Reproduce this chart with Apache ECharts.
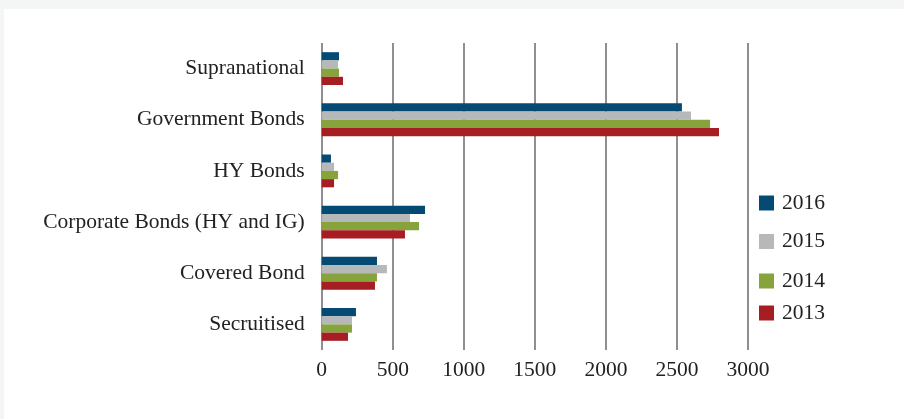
<!DOCTYPE html>
<html>
<head>
<meta charset="utf-8">
<script src="https://cdn.jsdelivr.net/npm/echarts@6/dist/echarts.min.js"></script>
<style>
  html, body { margin: 0; padding: 0; background: #f4f6f5; }
  #chart { position: absolute; left: 4px; top: 9px; width: 900px; height: 410px; background: #ffffff; }
</style>
</head>
<body>
<div id="chart"></div>
<script>
// Holdings by asset class, listed top to bottom
const categories = ['Supranational', 'Government Bonds', 'HY Bonds', 'Corporate Bonds (HY and IG)', 'Covered Bond', 'Secruitised'];
const years = ['2016', '2015', '2014', '2013'];
const values2016 = [122, 2535, 65, 727, 389, 241];
const values2015 = [115, 2599, 87, 621, 459, 213];
const values2014 = [122, 2733, 115, 685, 389, 213];
const values2013 = [150, 2796, 87, 586, 375, 185];
const xTicks = [0, 500, 1000, 1500, 2000, 2500, 3000];

const colors = { '2016': '#044a72', '2015': '#b7b8ba', '2014': '#86a33c', '2013': '#a61e22' };
const seriesValues = { '2016': values2016, '2015': values2015, '2014': values2014, '2013': values2013 };
const font = '"Liberation Serif", "DejaVu Serif", serif';
const legendTops = [183, 221.5, 261, 293];

const chart = echarts.init(document.getElementById('chart'));
chart.setOption({
  animation: false,
  backgroundColor: '#ffffff',
  grid: { left: 317.7, top: 34, width: 426.3, height: 307, containLabel: false },
  xAxis: {
    type: 'value',
    min: xTicks[0],
    max: xTicks[xTicks.length - 1],
    interval: xTicks[1] - xTicks[0],
    axisLine: { show: false },
    axisTick: { show: false },
    splitLine: { show: true, lineStyle: { color: '#8f8f93', width: 2 } },
    axisLabel: { color: '#222222', fontFamily: font, fontSize: 21.5, margin: 9, formatter: v => String(v) }
  },
  yAxis: {
    type: 'category',
    inverse: true,
    data: categories,
    axisLine: { show: false },
    axisTick: { show: false },
    axisLabel: { color: '#222222', fontFamily: font, fontSize: 21.5, margin: 17 }
  },
  legend: years.map((y, i) => ({
    data: [y],
    left: 755,
    top: legendTops[i],
    padding: 0,
    orient: 'vertical',
    icon: 'rect',
    itemWidth: 15,
    itemHeight: 15,
    textStyle: { color: '#222222', fontFamily: font, fontSize: 21.5, padding: [0, 0, 0, 3] }
  })),
  series: years.map(y => ({
    name: y,
    type: 'bar',
    data: seriesValues[y],
    barWidth: 8.2,
    barGap: '0%',
    itemStyle: { color: colors[y] }
  }))
});
</script>
</body>
</html>
